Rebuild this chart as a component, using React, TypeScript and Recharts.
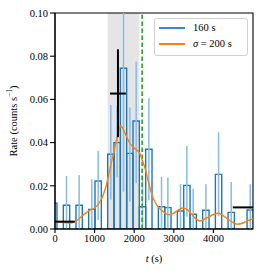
import React from 'react';
import {
  ComposedChart, Line, XAxis, YAxis, ReferenceArea, ReferenceLine, Label,
} from 'recharts';

// 160 s binned light curve (bin start, rate) and error bar ends
const BIN_WIDTH = 160;
const BIN_LO = [-110, 210, 530, 850, 1010, 1330, 1490, 1650, 1810, 1970, 2130, 2290, 2610, 2770, 3090, 3250, 3410, 3730, 4050, 4370, 4850];
const RATE = [0.0119, 0.011, 0.011, 0.0091, 0.0222, 0.0346, 0.040, 0.0744, 0.035, 0.050, 0.0103, 0.0369, 0.0103, 0.0099, 0.0083, 0.0202, 0.0068, 0.0087, 0.0253, 0.0077, 0.0088];
const ERR_TOP = [0.025, 0.0245, 0.025, 0.023, 0.0362, 0.0574, 0.057, 0.132, 0.0562, 0.0775, 0.0245, 0.0605, 0.0242, 0.0239, 0.0208, 0.0384, 0.0186, 0.0207, 0.0448, 0.0218, 0.0207];
const ERR_BOTTOM = [0, 0, 0, 0, 0.0042, 0.0137, 0.024, 0.0173, 0.0126, 0.0212, 0, 0.0133, 0, 0, 0, 0.0057, 0, 0, 0.0058, 0, 0];

// gaussian-smoothed rate (sigma = 200 s)
const SMOOTH_T = [0, 200, 400, 525, 700, 860, 1000, 1130, 1220, 1300, 1390, 1470, 1550, 1620, 1660, 1700, 1770, 1890, 2020, 2140, 2200, 2270, 2330, 2400, 2480, 2570, 2700, 2860, 2990, 3110, 3230, 3370, 3500, 3660, 3830, 4000, 4130, 4260, 4430, 4610, 4760, 4890, 5000];
const SMOOTH_RATE = [0.0034, 0.003, 0.0028, 0.0036, 0.0063, 0.0085, 0.0097, 0.0125, 0.016, 0.0205, 0.028, 0.0345, 0.041, 0.046, 0.0478, 0.047, 0.0443, 0.0397, 0.0372, 0.035, 0.032, 0.0283, 0.024, 0.019, 0.0142, 0.011, 0.0085, 0.0066, 0.0072, 0.0088, 0.0097, 0.0085, 0.0057, 0.0037, 0.0051, 0.0067, 0.0073, 0.006, 0.0037, 0.0022, 0.0029, 0.0041, 0.0047];

// flare window, peak estimate, quiescent levels
const FLARE_SPAN = [1330, 2130];
const MARKER_T = 2200;
const PEAK_T = 1590;
const PEAK_HALF = 200;
const PEAK_RATE = 0.0627;
const PEAK_RANGE = [0.0425, 0.0832];
const PRE_SPAN = [0, 500];
const PRE_RATE = 0.0034;
const POST_SPAN = [4490, 5000];
const POST_RATE = 0.010;

const X_TICKS = [0, 1000, 2000, 3000, 4000];
const Y_TICKS = [0, 0.02, 0.04, 0.06, 0.08, 0.1];

const FONT = '"Liberation Serif", "DejaVu Serif", serif';
const BLUE = '#1f77b4';
const LIGHT_BLUE = '#86bce6';
const ORANGE = '#ff7f0e';

const smooth = SMOOTH_T.map((t, i) => ({ t, rate: SMOOTH_RATE[i] }));

function YTitle(props: any) {
  const { viewBox } = props;
  const cx = 13;
  const cy = viewBox.y + viewBox.height / 2;
  return (
    <text x={cx} y={cy} transform={`rotate(-90 ${cx} ${cy})`} textAnchor="middle"
      dominantBaseline="central" fontFamily={FONT} fontSize={10.5} fill="#000">
      Rate (counts s<tspan dy={-4} fontSize={7.5}>−1</tspan><tspan dy={4}>)</tspan>
    </text>
  );
}

function XTitle(props: any) {
  const { viewBox } = props;
  const cx = viewBox.x + viewBox.width / 2;
  return (
    <text x={cx} y={258} textAnchor="middle" dominantBaseline="central"
      fontFamily={FONT} fontSize={10.5} fill="#000">
      <tspan fontStyle="italic">t</tspan> (s)
    </text>
  );
}

export default function App() {
  return (
    <div style={{ position: 'absolute', left: 0, top: 0, width: 266, height: 273, background: '#fff' }}>
      <ComposedChart width={266} height={273} margin={{ top: 13, right: 13, bottom: 0, left: 0 }}>
        <XAxis type="number" dataKey="t" domain={[0, 5000]} ticks={X_TICKS} allowDataOverflow
          height={44} tickSize={4} stroke="#000" strokeWidth={1.1}
          tick={{ fill: '#000', fontSize: 10.5, fontFamily: FONT }}>
          <Label content={<XTitle />} />
        </XAxis>
        <YAxis type="number" domain={[0, 0.1]} ticks={Y_TICKS} allowDataOverflow width={55}
          tickSize={5} stroke="#000" strokeWidth={1.1} tickFormatter={(v: number) => v.toFixed(2)}
          tick={{ fill: '#000', fontSize: 10.5, fontFamily: FONT }}>
          <Label content={<YTitle />} />
        </YAxis>

        <ReferenceArea x1={FLARE_SPAN[0]} x2={FLARE_SPAN[1]} y1={0} y2={0.1}
          fill="#e5e5e5" fillOpacity={1} stroke="none" ifOverflow="hidden" />

        {BIN_LO.map((lo, i) => (
          <ReferenceLine key={`e${i}`} ifOverflow="hidden" stroke={LIGHT_BLUE} strokeWidth={1.5}
            segment={[{ x: lo + BIN_WIDTH / 2, y: ERR_BOTTOM[i] }, { x: lo + BIN_WIDTH / 2, y: ERR_TOP[i] }]} />
        ))}
        {BIN_LO.map((lo, i) => (
          <ReferenceArea key={`b${i}`} x1={lo} x2={lo + BIN_WIDTH} y1={0} y2={RATE[i]}
            fill="none" stroke={BLUE} strokeWidth={1.4} ifOverflow="hidden" />
        ))}

        <ReferenceLine x={MARKER_T} stroke="#2ca02c" strokeWidth={1.6} strokeDasharray="4.5 2.5" />

        <Line data={smooth} dataKey="rate" type="monotone" stroke={ORANGE} strokeWidth={1.4}
          dot={false} isAnimationActive={false} />

        <ReferenceLine stroke="#000" strokeWidth={2}
          segment={[{ x: PRE_SPAN[0], y: PRE_RATE }, { x: PRE_SPAN[1], y: PRE_RATE }]} />
        <ReferenceLine stroke="#000" strokeWidth={2}
          segment={[{ x: POST_SPAN[0], y: POST_RATE }, { x: POST_SPAN[1], y: POST_RATE }]} />
        <ReferenceLine stroke="#000" strokeWidth={2}
          segment={[{ x: PEAK_T - PEAK_HALF, y: PEAK_RATE }, { x: PEAK_T + PEAK_HALF, y: PEAK_RATE }]} />
        <ReferenceLine stroke="#000" strokeWidth={2}
          segment={[{ x: PEAK_T, y: PEAK_RANGE[0] }, { x: PEAK_T, y: PEAK_RANGE[1] }]} />

        {/* top/right spines */}
        <ReferenceArea x1={0} x2={5000} y1={0} y2={0.1} fill="none" stroke="#000" strokeWidth={1.1} />
      </ComposedChart>

      <div style={{
        position: 'absolute', left: 154, top: 18, width: 92, height: 36,
        border: '1px solid #d0d0d0', borderRadius: 3, background: 'rgba(255,255,255,0.8)',
        fontFamily: FONT, fontSize: 10.5, color: '#000',
      }}>
        <div style={{ position: 'absolute', left: 4, top: 8, width: 26, height: 2, background: '#3b8bc6' }} />
        <div style={{ position: 'absolute', left: 38, top: 2, lineHeight: '14px' }}>160 s</div>
        <div style={{ position: 'absolute', left: 4, top: 24, width: 26, height: 2, background: ORANGE }} />
        <div style={{ position: 'absolute', left: 38, top: 18, lineHeight: '14px', whiteSpace: 'nowrap' }}>
          <i>σ</i> = 200 s
        </div>
      </div>
    </div>
  );
}
